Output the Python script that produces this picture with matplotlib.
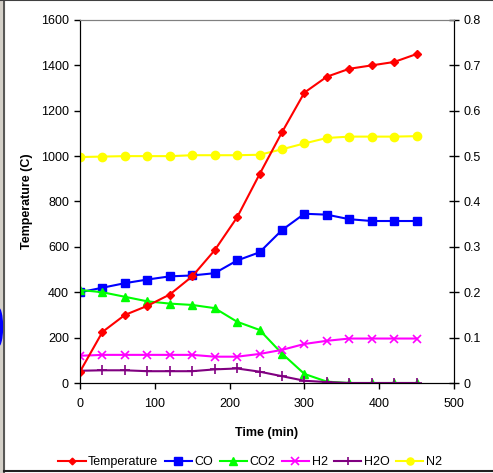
import numpy as np
import matplotlib.pyplot as plt
from matplotlib.lines import Line2D
from matplotlib.patches import Rectangle, Ellipse

plt.rcParams['font.family'] = ['Liberation Sans', 'DejaVu Sans']

# Data
time_min = [0, 30, 60, 90, 120, 150, 180, 210, 240, 270, 300, 330, 360, 390, 420, 450]
temperature = [50, 225, 300, 340, 390, 470, 585, 730, 920, 1105, 1280, 1350, 1385, 1400, 1415, 1450]
co = [0.200, 0.210, 0.220, 0.228, 0.235, 0.237, 0.242, 0.270, 0.288, 0.337, 0.373, 0.371, 0.361, 0.357, 0.357, 0.357]
co2 = [0.205, 0.200, 0.190, 0.180, 0.175, 0.172, 0.165, 0.135, 0.117, 0.065, 0.020, 0.003, 0.0, 0.0, 0.0, 0.0]
h2 = [0.060, 0.062, 0.062, 0.062, 0.062, 0.062, 0.058, 0.058, 0.064, 0.073, 0.086, 0.093, 0.098, 0.098, 0.098, 0.098]
h2o = [0.027, 0.028, 0.028, 0.026, 0.026, 0.026, 0.030, 0.032, 0.025, 0.015, 0.005, 0.002, 0.0, 0.0, 0.0, 0.0]
n2 = [0.498, 0.499, 0.500, 0.500, 0.500, 0.502, 0.502, 0.502, 0.503, 0.515, 0.528, 0.540, 0.543, 0.543, 0.543, 0.544]

W, H = 493, 473
fig = plt.figure(figsize=(W / 100, H / 100), dpi=100)
ax = fig.add_axes([80 / W, 1 - 383 / H, (454 - 80) / W, (383 - 20) / H])
ax2 = ax.twinx()

lw = 1.5
h_co, = ax2.plot(time_min, co, color='#0000FF', lw=lw, marker='s', ms=6, label='CO')
h_co2, = ax2.plot(time_min, co2, color='#00FF00', lw=lw, marker='^', ms=6, label='CO2')
h_h2, = ax2.plot(time_min, h2, color='#FF00FF', lw=lw, marker='x', ms=6, mew=1.2, label='H2')
h_h2o, = ax2.plot(time_min, h2o, color='#800080', lw=lw, marker='+', ms=7, mew=1.2, label='H2O')
h_n2, = ax2.plot(time_min, n2, color='#FFFF00', lw=lw, marker='o', ms=6, label='N2')
h_t, = ax.plot(time_min, temperature, color='#FF0000', lw=lw, marker='D', ms=4, label='Temperature')

# temperature drawn on top
ax.set_zorder(ax2.get_zorder() + 1)
ax.patch.set_visible(False)

ax.set_xlim(0, 500)
ax.set_ylim(0, 1600)
ax2.set_ylim(0, 0.8)
ax.set_xticks(np.arange(0, 501, 100))
ax.set_yticks(np.arange(0, 1601, 200))
ax2.set_yticks([0, 0.1, 0.2, 0.3, 0.4, 0.5, 0.6, 0.7, 0.8])
ax2.set_yticklabels(['0', '0.1', '0.2', '0.3', '0.4', '0.5', '0.6', '0.7', '0.8'])

ax.tick_params(axis='both', labelsize=9, direction='out', length=4, width=1, color='black')
ax.tick_params(axis='x', pad=7)
ax.tick_params(axis='y', pad=4)
ax2.tick_params(axis='y', labelsize=9, direction='inout', length=7, width=1, pad=3)

for a in (ax, ax2):
    a.spines['top'].set_color('#808080')
    a.spines['left'].set_color('black')
    a.spines['right'].set_color('black')
    a.spines['bottom'].set_color('black')

ax.set_xlabel('Time (min)', fontsize=9, fontweight='bold', labelpad=12)
ax.set_ylabel('Temperature (C)', fontsize=9, fontweight='bold', labelpad=6)

fig.legend([h_t, h_co, h_co2, h_h2, h_h2o, h_n2],
           ['Temperature', 'CO', 'CO2', 'H2', 'H2O', 'N2'],
           loc='center', bbox_to_anchor=(250 / W, 1 - 462 / H), ncol=6,
           frameon=False, fontsize=9, handlelength=2.2, handletextpad=0.2,
           columnspacing=0.5, borderaxespad=0, markerscale=0.85)

# window frame around the chart
fig.patches.append(Rectangle((0, 0), 3.5 / W, 1, transform=fig.transFigure,
                             color='#d4d0c8', zorder=0))
fig.patches.append(Ellipse((-2.5 / W, 1 - 327 / H), 10 / W, 40 / H, transform=fig.transFigure,
                           color='#0000FF', zorder=1))
fig.add_artist(Line2D([3.5 / W, 3.5 / W], [0, 1], transform=fig.transFigure, color='#404040', lw=1.2))
fig.add_artist(Line2D([0, 1], [1 - 0.5 / H, 1 - 0.5 / H], transform=fig.transFigure, color='#404040', lw=1.5))
fig.add_artist(Line2D([3.5 / W, 1], [1 - 470.5 / H, 1 - 470.5 / H], transform=fig.transFigure, color='#202020', lw=1.5))

fig.savefig('out.png', dpi=100)
